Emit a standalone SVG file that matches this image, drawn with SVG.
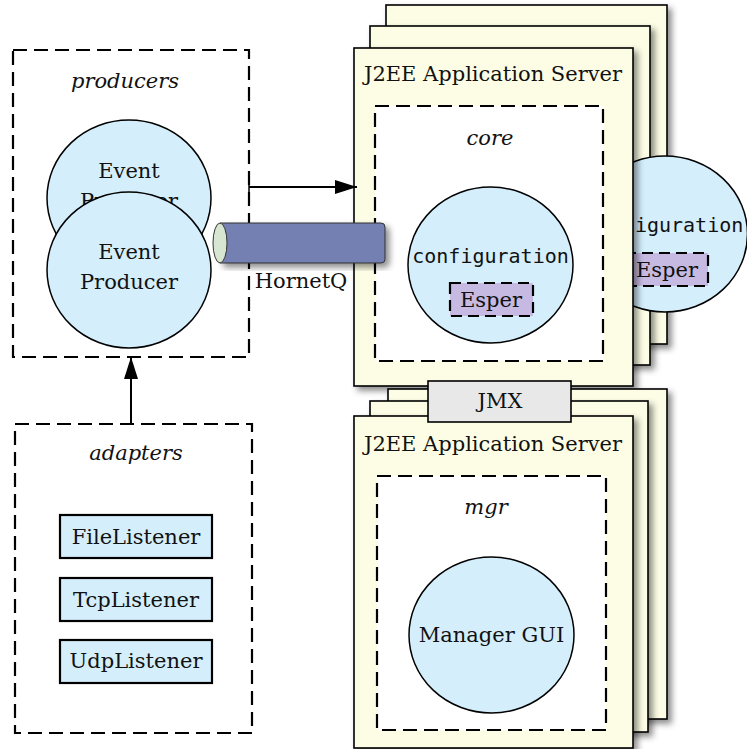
<svg xmlns="http://www.w3.org/2000/svg" width="747" height="749" viewBox="0 0 747 749">
<style>
.dash{fill:#fff;stroke:#000;stroke-width:2.2;stroke-dasharray:14,7}
.srv{fill:#fdfde6;stroke:#000;stroke-width:1.6}
.circ{fill:#d4eefc;stroke:#000;stroke-width:1.5}
.esp{fill:#c6bae2;stroke:#000;stroke-width:2.2;stroke-dasharray:11,6}
.lst{fill:#d4eefc;stroke:#000;stroke-width:2.2}
.t{font-family:"DejaVu Serif","Liberation Serif",serif;font-size:21px;fill:#111;text-anchor:middle}
.it{font-family:"DejaVu Serif","Liberation Serif",serif;font-size:21px;font-style:italic;fill:#111;text-anchor:middle}
.mono{font-family:"DejaVu Sans Mono","Liberation Mono",monospace;font-size:20px;fill:#111;text-anchor:middle}
.conn{stroke:#000;stroke-width:2;fill:none}
</style>
<defs>
<filter id="sh" x="-10%" y="-10%" width="130%" height="130%">
<feDropShadow dx="4" dy="4" stdDeviation="3" flood-color="#000" flood-opacity="0.45"/>
</filter>
<marker id="arrL" viewBox="0 0 22 14" markerWidth="22" markerHeight="14" refX="22" refY="7" orient="auto" markerUnits="userSpaceOnUse">
<path d="M0,0 L22,7 L0,14 Z" fill="#000"/>
</marker>
</defs>

<g id="producers">
<rect class="dash" x="13" y="50" width="236" height="307"/>
<text class="it" x="125" y="88">producers</text>
</g>
<g id="event-producer-1">
<ellipse class="circ" cx="129" cy="198" rx="82" ry="78"/>
<text class="t" x="129" y="178">Event</text>
<text class="t" x="129" y="208">Producer</text>
</g>
<g id="event-producer-2">
<ellipse class="circ" cx="129" cy="270" rx="82" ry="78"/>
<text class="t" x="129" y="259">Event</text>
<text class="t" x="129" y="289">Producer</text>
</g>

<g id="adapters">
<rect class="dash" x="15" y="424" width="237" height="309"/>
<text class="it" x="136" y="460">adapters</text>
</g>
<g id="file-listener">
<rect class="lst" x="60" y="515" width="152" height="43"/>
<text class="t" x="136" y="544">FileListener</text>
</g>
<g id="tcp-listener">
<rect class="lst" x="60" y="578" width="152" height="43"/>
<text class="t" x="136" y="607">TcpListener</text>
</g>
<g id="udp-listener">
<rect class="lst" x="60" y="640" width="152" height="43"/>
<text class="t" x="136" y="668">UdpListener</text>
</g>

<g id="server1">
<rect class="srv" x="386" y="5" width="281" height="339" filter="url(#sh)"/>
<rect class="srv" x="370" y="26" width="280" height="339" filter="url(#sh)"/>
</g>
<g id="configuration-2">
<ellipse class="circ" cx="665" cy="234" rx="82.5" ry="78"/>
<text class="mono" x="665" y="232">configuration</text>
<rect class="esp" x="625" y="253" width="83" height="33"/>
<text class="t" x="667" y="277">Esper</text>
</g>
<g id="server1-front">
<rect class="srv" x="354" y="48" width="279" height="338" filter="url(#sh)"/>
<text class="t" x="493" y="81">J2EE Application Server</text>
</g>
<g id="core">
<rect class="dash" x="375" y="106" width="228" height="255"/>
<text class="it" x="490" y="145">core</text>
</g>
<g id="configuration">
<ellipse class="circ" cx="490.5" cy="265" rx="82.5" ry="78"/>
<text class="mono" x="490.5" y="263">configuration</text>
<rect class="esp" x="450" y="283" width="83" height="33"/>
<text class="t" x="491" y="307">Esper</text>
</g>

<g id="server2">
<rect class="srv" x="388" y="389" width="279" height="330" filter="url(#sh)"/>
<rect class="srv" x="370" y="401" width="278" height="331" filter="url(#sh)"/>
<rect class="srv" x="354" y="416" width="279" height="332" filter="url(#sh)"/>
<text class="t" x="493" y="451">J2EE Application Server</text>
</g>
<g id="jmx">
<rect x="428" y="381" width="143" height="41" fill="#e8e8e8" stroke="#000" stroke-width="1.6"/>
<text class="t" x="500" y="408">JMX</text>
</g>
<g id="mgr">
<rect class="dash" x="377" y="476" width="229" height="254"/>
<text class="it" x="486" y="514">mgr</text>
</g>
<g id="manager-gui">
<ellipse class="circ" cx="491.5" cy="635" rx="82.5" ry="78"/>
<text class="t" x="491.5" y="642">Manager GUI</text>
</g>

<g id="hornetq">
<path d="M220,223 L381,223 Q385,223 385,227 L385,259 Q385,263 381,263 L220,263 Z" fill="#7480b2" stroke="#333" stroke-width="1" filter="url(#sh)"/>
<ellipse cx="220" cy="243" rx="7" ry="20" fill="#d6e6d0" stroke="#333" stroke-width="1"/>
<text class="t" x="301" y="288">HornetQ</text>
</g>

<g id="connectors">
<line class="conn" x1="249" y1="187" x2="357" y2="187" marker-end="url(#arrL)"/>
<line x1="249" y1="181" x2="249" y2="193" stroke="#000" stroke-width="1.5"/>
<line class="conn" x1="131" y1="424" x2="131" y2="357" marker-end="url(#arrL)"/>
</g>
</svg>
